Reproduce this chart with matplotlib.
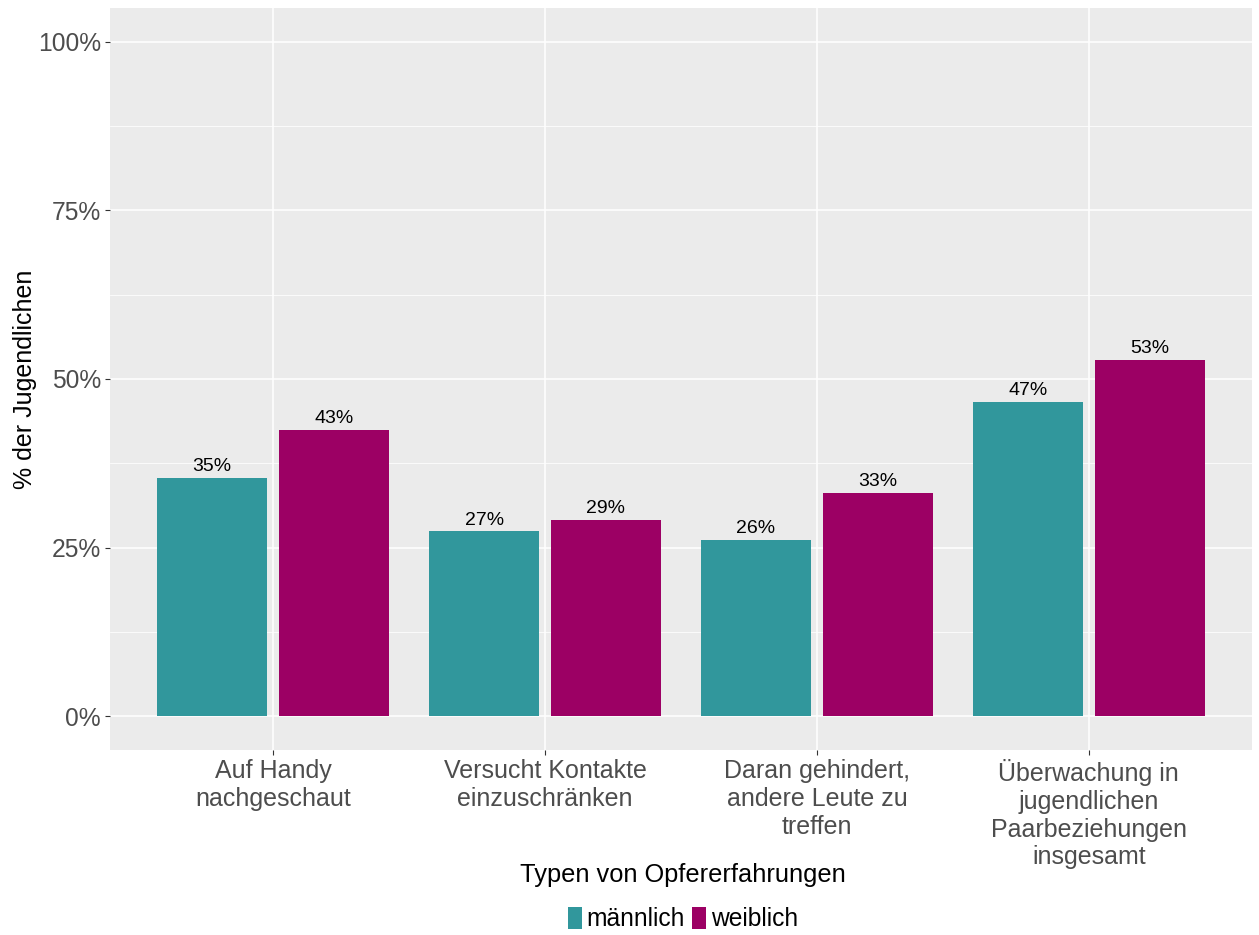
import numpy as np
import matplotlib
matplotlib.use("Agg")
import matplotlib.pyplot as plt
from matplotlib.patches import Patch

plt.rcParams['font.family'] = ['Liberation Sans', 'DejaVu Sans']

categories = ['Auf Handy\nnachgeschaut', 'Versucht Kontakte\neinzuschränken',
              'Daran gehindert,\nandere Leute zu\ntreffen',
              'Überwachung in\njugendlichen\nPaarbeziehungen\ninsgesamt']
maennlich = [35.3, 27.4, 26.1, 46.6]
weiblich = [42.4, 29.1, 33.1, 52.8]
labels_m = ['35%', '27%', '26%', '47%']
labels_w = ['43%', '29%', '33%', '53%']
series_names = ['männlich', 'weiblich']
colors = ['#31979C', '#9C0064']

fig = plt.figure(figsize=(12.59, 9.35), dpi=100)
ax = fig.add_axes([110/1259, 1-750/935, (1252-110)/1259, (750-8)/935])
ax.set_facecolor('#EBEBEB')

x = np.arange(1, len(categories)+1)
w = 0.404
off = 0.224
b1 = ax.bar(x-off, maennlich, w, color=colors[0], zorder=3)
b2 = ax.bar(x+off, weiblich, w, color=colors[1], zorder=3)

for bars, labs in [(b1, labels_m), (b2, labels_w)]:
    for b, lab in zip(bars, labs):
        ax.annotate(lab, (b.get_x()+b.get_width()/2, b.get_height()),
                    xytext=(0, 2), textcoords='offset points',
                    ha='center', va='bottom', fontsize=14, color='black', zorder=4)

ax.set_xlim(0.4, 4.6)
ax.set_ylim(-5, 105)
ax.set_yticks([0, 25, 50, 75, 100])
ax.set_yticklabels(['0%', '25%', '50%', '75%', '100%'])
ax.set_yticks([12.5, 37.5, 62.5, 87.5], minor=True)
ax.set_xticks(x)
ax.set_xticklabels(categories, linespacing=1.2)

ax.grid(True, which='major', color='white', linewidth=1.1, zorder=0)
ax.grid(True, which='minor', axis='y', color='white', linewidth=0.55, zorder=0)
ax.set_axisbelow(True)
for s in ax.spines.values():
    s.set_visible(False)
ax.tick_params(axis='both', which='major', length=3.5, width=0.8, color='#333333',
               labelcolor='#4D4D4D', pad=3)
ax.tick_params(axis='y', which='major', labelsize=17.7)
ax.tick_params(axis='x', which='major', labelsize=18)
ax.tick_params(axis='y', which='minor', length=0)

ax.set_ylabel('% der Jugendlichen', fontsize=18, color='black')
ax.yaxis.label.set_va('center')
ax.yaxis.set_label_coords(-0.0744, 0.5)

handles = [Patch(facecolor=c, edgecolor='none') for c in colors]
leg = fig.legend(handles, series_names, loc='lower center', bbox_to_anchor=(0.5425, 0.0),
                 ncol=2, frameon=False, fontsize=17.7, title='Typen von Opfererfahrungen',
                 title_fontsize=18.3, handlelength=0.55, handleheight=1.05,
                 handletextpad=0.2, columnspacing=0.3, borderaxespad=0.0, borderpad=0.15)
leg._legend_box.sep = 14

fig.savefig('out.png', dpi=100)
